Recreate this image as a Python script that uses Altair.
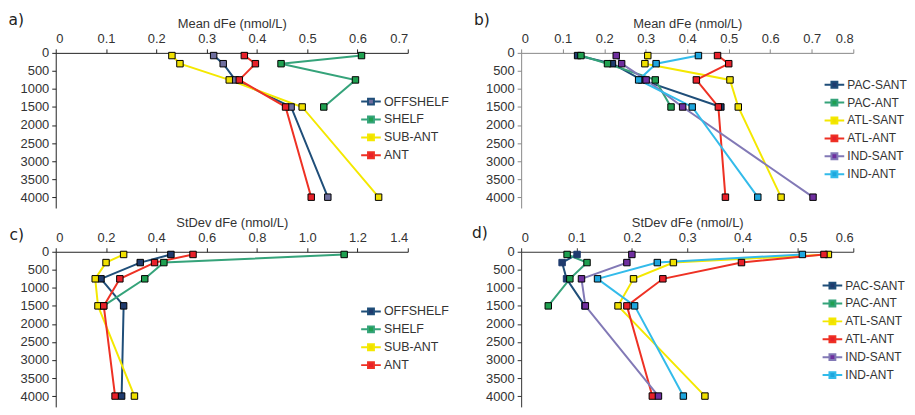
import altair as alt
import pandas as pd

depths = [75, 300, 750, 1500, 4000]

# Panel a: Mean dFe by region
region_series = ["OFFSHELF", "SHELF", "SUB-ANT", "ANT"]
a_offshelf = [0.314, 0.333, 0.357, 0.468, 0.541]
a_shelf = [0.608, 0.448, 0.596, 0.533, None]
a_subant = [0.231, 0.247, 0.345, 0.490, 0.642]
a_ant = [0.375, 0.397, 0.365, 0.457, 0.508]

# Panel b: Mean dFe by basin
basin_series = ["PAC-SANT", "PAC-ANT", "ATL-SANT", "ATL-ANT", "IND-SANT", "IND-ANT"]
b_pac_sant = [0.136, 0.220, 0.290, 0.481, None]
b_pac_ant = [0.144, 0.208, 0.323, 0.361, None]
b_atl_sant = [0.305, 0.298, 0.503, 0.523, 0.626]
b_atl_ant = [0.473, 0.500, 0.422, 0.475, 0.492]
b_ind_sant = [0.229, 0.242, 0.301, 0.389, 0.703]
b_ind_ant = [0.427, 0.325, 0.283, 0.412, 0.570]

# Panel c: StDev dFe by region
c_offshelf = [0.458, 0.336, 0.180, 0.270, 0.262]
c_shelf = [1.147, 0.430, 0.354, 0.190, None]
c_subant = [0.270, 0.200, 0.157, 0.168, 0.313]
c_ant = [0.546, 0.393, 0.255, 0.191, 0.236]

# Panel d: StDev dFe by basin
d_pac_sant = [0.101, 0.074, 0.082, 0.115, None]
d_pac_ant = [0.083, 0.119, 0.088, 0.049, None]
d_atl_sant = [0.555, 0.275, 0.203, 0.175, 0.332]
d_atl_ant = [0.547, 0.398, 0.256, 0.191, 0.237]
d_ind_sant = [0.200, 0.191, 0.109, 0.116, 0.248]
d_ind_ant = [0.508, 0.246, 0.138, 0.205, 0.293]

region_lines = ["#1f4e79", "#35a37a", "#f4e800", "#ee3124"]
region_marks_a = ["#6e6e9e", "#1fa050", "#f0e000", "#e8202a"]
region_marks_c = ["#1f3b6e", "#1fa050", "#f0e000", "#e8202a"]
basin_lines = ["#1f4e79", "#35a37a", "#f4e800", "#ee3124", "#8279b6", "#33bbea"]
basin_marks = ["#1f3b6e", "#1fa050", "#f0e000", "#e8202a", "#6f2f9f", "#1ea6de"]

FONT = "Liberation Sans"
TXT = "#333333"
SYMBOL = "M-1,0H-0.3M0.3,0H1M-0.3,-0.3H0.3V0.3H-0.3Z"


def long_df(names, columns):
    rows = []
    for name, vals in zip(names, columns):
        for dpt, v in zip(depths, vals):
            if v is not None:
                rows.append({"series": name, "depth": dpt, "value": v})
    return pd.DataFrame(rows)


def panel(df, names, line_cols, mark_cols, xmax, step, xtitle, letter,
          title_xy, legend_xy, width, axis_color, legend_font, no_border=None):
    ticks = [round(i * step, 2) for i in range(int(round(xmax / step)) + 1)]
    x = alt.X("value:Q",
              scale=alt.Scale(domain=[0, xmax], nice=False, zero=True),
              axis=alt.Axis(orient="top", values=ticks, title=xtitle,
                            labelExpr="datum.value == 0 ? '0' : format(datum.value, '.1f')",
                            grid=False, tickSize=4, labelPadding=3,
                            titlePadding=2, domainColor=axis_color,
                            tickColor=axis_color))
    y = alt.Y("depth:Q",
              scale=alt.Scale(domain=[0, 4300], reverse=True, nice=False),
              axis=alt.Axis(values=list(range(0, 4001, 500)), format="d",
                            title=letter, titleAngle=0, titleAlign="left",
                            titleBaseline="alphabetic", titleX=title_xy[0],
                            titleY=title_xy[1], titleFont="DejaVu Sans",
                            titleFontSize=15.5, titleFontWeight="normal",
                            titleColor="#222222", grid=False, tickSize=4,
                            labelPadding=3, domainColor=axis_color,
                            tickColor=axis_color))
    base = alt.Chart(df)
    lines = base.mark_line(strokeWidth=2).encode(
        x=x, y=y,
        stroke=alt.Stroke("series:N",
                          scale=alt.Scale(domain=names, range=line_cols),
                          legend=alt.Legend(orient="none", legendX=legend_xy[0],
                                            legendY=legend_xy[1], title=None,
                                            symbolType=SYMBOL, symbolSize=390,
                                            symbolStrokeWidth=2,
                                            labelFont=FONT,
                                            labelFontSize=legend_font,
                                            labelColor=TXT, labelOffset=2,
                                            rowPadding=0, padding=0)),
        detail="series:N",
        order="depth:Q",
    )
    if no_border:
        stroke = alt.condition(alt.datum.series == no_border,
                               alt.value(mark_cols[names.index(no_border)]),
                               alt.value("black"))
    else:
        stroke = alt.value("black")
    points = base.mark_point(shape="square", filled=True, size=42,
                             strokeWidth=1, opacity=1).encode(
        x=x, y=y,
        fill=alt.Fill("series:N",
                      scale=alt.Scale(domain=names, range=mark_cols),
                      legend=None),
        stroke=stroke,
    )
    return alt.layer(lines, points).properties(width=width, height=156)


df_a = long_df(region_series, [a_offshelf, a_shelf, a_subant, a_ant])
df_b = long_df(basin_series, [b_pac_sant, b_pac_ant, b_atl_sant, b_atl_ant,
                              b_ind_sant, b_ind_ant])
df_c = long_df(region_series, [c_offshelf, c_shelf, c_subant, c_ant])
df_d = long_df(basin_series, [d_pac_sant, d_pac_ant, d_atl_sant, d_atl_ant,
                              d_ind_sant, d_ind_ant])

pa = panel(df_a, region_series, region_lines, region_marks_a, 0.7, 0.1,
           "Mean dFe (nmol/L)", "a)", (-48, -28.5), (306, 38), 354, "#222222", 12.5)
pb = panel(df_b, basin_series, basin_lines, basin_marks, 0.8, 0.1,
           "Mean dFe (nmol/L)", "b)", (-48, -28.5), (304, 21), 334, "#888888", 12)
pc = panel(df_c, region_series, region_lines, region_marks_c, 1.4, 0.2,
           "StDev dFe (nmol/L)", "c)", (-47, -12), (306, 49), 354, "#222222", 12.5)
pd_ = panel(df_d, basin_series, basin_lines, basin_marks, 0.6, 0.1,
            "StDev dFe (nmol/L)", "d)", (-50, -14), (302, 23), 334, "#333333", 12,
            no_border="PAC-SANT")

chart = alt.concat(pa, pb, pc, pd_, columns=2,
                   spacing={"row": 9, "column": 22}).resolve_scale(
    x="independent", y="independent", stroke="independent", fill="independent"
).resolve_legend(stroke="independent", fill="independent").properties(
    padding={"left": 0, "top": 3, "right": 0, "bottom": 0}
).configure_view(stroke=None).configure_axis(
    labelFont=FONT, labelFontSize=13, labelColor=TXT,
    titleFont=FONT, titleFontSize=13, titleColor=TXT, titleFontWeight="normal"
)

chart.save("out.html", embed_options={"renderer": "svg", "actions": False})
